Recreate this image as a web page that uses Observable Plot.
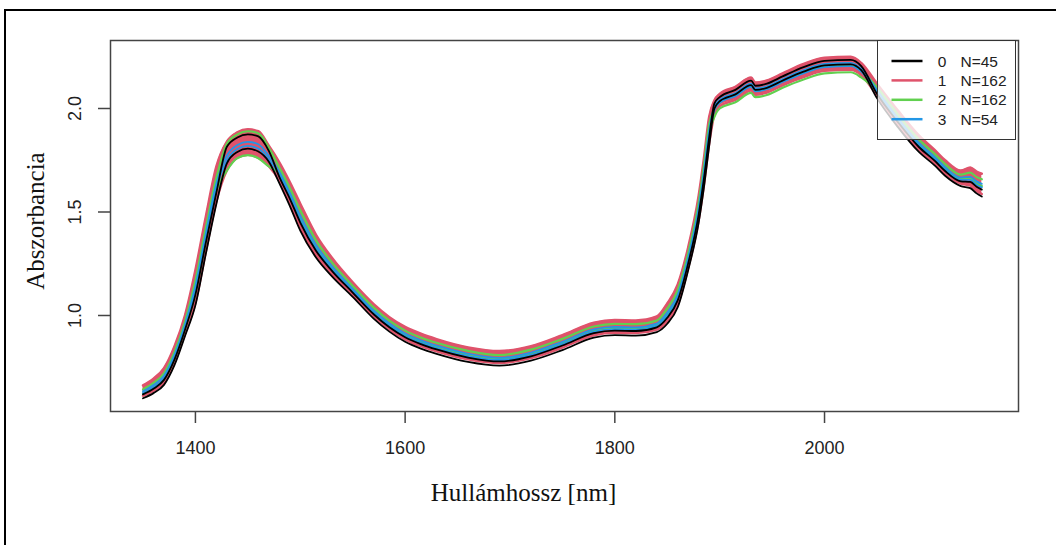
<!DOCTYPE html>
<html><head><meta charset="utf-8">
<script src="https://cdn.jsdelivr.net/npm/d3@7"></script>
<script src="https://cdn.jsdelivr.net/npm/@observablehq/plot@0.6"></script>
<style>
html,body{margin:0;padding:0;background:#fff;width:1056px;height:545px;overflow:hidden;}
#frame{position:absolute;left:4px;top:9px;width:1060px;height:540px;border-top:2px solid #000;border-left:2px solid #000;}
#chart{position:absolute;left:0;top:0;}
#legend{position:absolute;left:877px;top:40px;width:139px;height:100px;box-sizing:border-box;border:1.5px solid #333;background:rgba(255,255,255,0.78);}
</style></head><body>
<div id="frame"></div><div id="chart"></div><div id="legend"></div>
<script>
// Wavelength grid (nm)
const wl = [1350,1360,1370,1380,1390,1400,1410,1420,1430,1440,1450,1460,1470,1480,1490,1500,1515,1530,1550,1570,1585,1600,1615,1630,1660,1690,1720,1750,1780,1800,1820,1840,1850,1860,1870,1880,1885,1890,1895,1900,1915,1930,1934,1945,1960,1980,2000,2025,2035,2050,2070,2090,2105,2115,2130,2139,2145,2150];

// Class 0 (N=45) – lower / upper spectra
const c0Lo = [.600,.625,.665,.760,.900,1.050,1.300,1.540,1.735,1.790,1.806,1.792,1.743,1.640,1.530,1.410,1.280,1.190,1.090,.985,.922,.873,.840,.815,.776,.758,.782,.833,.893,.905,.903,.920,.960,1.040,1.220,1.450,1.620,1.820,2.000,2.035,2.068,2.113,2.090,2.100,2.135,2.178,2.208,2.213,2.185,2.050,1.910,1.790,1.725,1.675,1.625,1.615,1.590,1.575];
const c0Hi = [.619,.646,.689,.787,.930,1.101,1.354,1.594,1.815,1.860,1.875,1.865,1.795,1.670,1.565,1.449,1.313,1.217,1.111,1.006,.943,.895,.862,.836,.797,.778,.803,.855,.915,.927,.925,.943,.989,1.073,1.253,1.489,1.662,1.862,2.025,2.055,2.090,2.135,2.110,2.120,2.155,2.200,2.230,2.235,2.205,2.071,1.934,1.814,1.748,1.698,1.648,1.645,1.622,1.608];
// Class 1 (N=162)
const c1Lo = [.612,.637,.677,.772,.912,1.062,1.312,1.552,1.702,1.762,1.777,1.762,1.722,1.652,1.542,1.422,1.292,1.202,1.102,.997,.934,.885,.852,.827,.788,.770,.794,.845,.905,.917,.915,.932,.972,1.052,1.232,1.462,1.632,1.832,1.972,2.012,2.042,2.087,2.067,2.077,2.112,2.152,2.182,2.187,2.162,2.062,1.922,1.802,1.737,1.687,1.637,1.627,1.602,1.587];
const c1Hi = [.662,.695,.745,.850,1.000,1.220,1.480,1.720,1.840,1.885,1.900,1.890,1.820,1.740,1.645,1.540,1.390,1.280,1.160,1.055,.992,.945,.912,.886,.846,.828,.852,.905,.965,.978,.976,.995,1.058,1.150,1.330,1.580,1.760,1.960,2.040,2.070,2.105,2.150,2.125,2.135,2.170,2.215,2.245,2.250,2.220,2.120,1.990,1.870,1.800,1.750,1.700,1.715,1.695,1.685];
// Class 2 (N=162)
const c2Lo = [.622,.650,.693,.792,.935,1.110,1.363,1.603,1.700,1.760,1.775,1.760,1.720,1.685,1.582,1.469,1.330,1.231,1.122,1.017,.954,.905,.872,.847,.808,.789,.814,.865,.925,.938,.936,.954,1.004,1.090,1.270,1.509,1.683,1.883,1.960,2.000,2.030,2.075,2.055,2.065,2.100,2.140,2.170,2.175,2.150,2.082,1.946,1.826,1.759,1.709,1.659,1.660,1.637,1.625];
const c2Hi = [.643,.674,.721,.823,.970,1.169,1.426,1.666,1.830,1.875,1.890,1.880,1.810,1.715,1.616,1.508,1.363,1.258,1.143,1.038,.975,.927,.894,.868,.829,.809,.835,.887,.947,.960,.958,.976,1.034,1.123,1.303,1.548,1.725,1.925,1.996,2.032,2.064,2.109,2.087,2.097,2.132,2.174,2.204,2.209,2.182,2.103,1.970,1.850,1.781,1.731,1.681,1.690,1.669,1.658];
// Class 3 (N=54)
const c3Lo = [.625,.653,.697,.796,.940,1.118,1.372,1.612,1.750,1.804,1.819,1.806,1.754,1.680,1.576,1.462,1.324,1.226,1.118,1.013,.950,.902,.869,.843,.804,.785,.810,.862,.922,.934,.932,.950,.999,1.084,1.264,1.502,1.676,1.876,1.992,2.028,2.060,2.105,2.083,2.093,2.128,2.170,2.200,2.205,2.178,2.078,1.942,1.822,1.755,1.705,1.655,1.655,1.632,1.619];
const c3Hi = [.634,.664,.709,.810,.955,1.144,1.399,1.639,1.773,1.824,1.839,1.827,1.771,1.695,1.593,1.482,1.341,1.240,1.129,1.024,.961,.913,.880,.854,.815,.795,.821,.873,.933,.945,.943,.961,1.014,1.101,1.281,1.522,1.697,1.897,2.008,2.042,2.075,2.120,2.097,2.107,2.142,2.185,2.215,2.220,2.192,2.089,1.954,1.834,1.766,1.716,1.666,1.670,1.648,1.636];

const classLabels = ["0","1","2","3"];
const classN = [45,162,162,54];
const classColors = ["#000000","#DF536B","#61D04F","#2297E6"];
const xTicks = [1400,1600,1800,2000];
const yTicks = [1.0,1.5,2.0];
const xTitle = "Hullámhossz [nm]";
const yTitle = "Abszorbancia";

const long = (lo, hi, k) => [
  ...wl.map((w,i)=>({wl:w, v:lo[i], key:k+"lo"})),
  ...wl.map((w,i)=>({wl:w, v:hi[i], key:k+"hi"}))
];
const band1 = wl.map((w,i)=>({wl:w, lo:c1Lo[i], hi:c1Hi[i]}));
const curve = "monotone-x";
const serif = "'Liberation Serif', 'Times New Roman', serif";

const chart = Plot.plot({
  width:1056, height:545,
  marginLeft:110, marginRight:38, marginTop:40, marginBottom:134,
  style:{fontFamily:"'Liberation Sans', Arial, sans-serif", background:"transparent", color:"#222", overflow:"visible"},
  x:{domain:[1319,2185]},
  y:{domain:[0.5362,2.3285]},
  marks:[
    Plot.areaY(band1,{x:"wl", y1:"lo", y2:"hi", fill:classColors[1], curve}),
    Plot.line(long(c1Lo,c1Hi,"1"),{x:"wl", y:"v", z:"key", stroke:classColors[1], strokeWidth:2.5, curve}),
    Plot.line(long(c2Lo,c2Hi,"2"),{x:"wl", y:"v", z:"key", stroke:classColors[2], strokeWidth:2.2, curve}),
    Plot.line(long(c3Lo,c3Hi,"3"),{x:"wl", y:"v", z:"key", stroke:classColors[3], strokeWidth:1.8, curve}),
    Plot.line(long(c0Lo,c0Hi,"0"),{x:"wl", y:"v", z:"key", stroke:classColors[0], strokeWidth:1.8, curve}),
    Plot.frame({stroke:"#444", strokeWidth:1.5}),
    Plot.axisX({ticks:xTicks, tickSize:12, tickPadding:18, fontSize:18, stroke:"#444", strokeWidth:1.5, tickFormat:d=>String(d), label:null}),
    Plot.axisY({ticks:yTicks, tickSize:12, stroke:"#444", strokeWidth:1.5, tickFormat:()=>"", label:null}),
    Plot.text(yTicks,{y:d=>d, frameAnchor:"left", dx:-35, rotate:-90, textAnchor:"middle", text:d=>d.toFixed(1), fontSize:18, fill:"#222"}),
    Plot.text([xTitle],{frameAnchor:"bottom", dx:-41, dy:89, textAnchor:"middle", text:d=>d, fontSize:25, fontFamily:serif, fill:"#111"}),
    Plot.text([yTitle],{frameAnchor:"left", dx:-75, dy:-5, rotate:-90, textAnchor:"middle", text:d=>d, fontSize:25, fontFamily:serif, fill:"#111"})
  ]
});
document.getElementById("chart").appendChild(chart);

// Legend
const leg = d3.select("#legend").append("svg").attr("width",136).attr("height",97)
  .style("font-family","'Liberation Sans', Arial, sans-serif").style("font-size","15.5px");
classLabels.forEach((c,i)=>{
  const y = 20 + i*19.4;
  leg.append("line").attr("x1",13.5).attr("x2",44.5).attr("y1",y).attr("y2",y)
    .attr("stroke",classColors[i]).attr("stroke-width",2.5);
  leg.append("text").attr("x",64).attr("y",y).attr("dy","0.36em").attr("text-anchor","middle").attr("fill","#222").text(c);
  leg.append("text").attr("x",82.5).attr("y",y).attr("dy","0.36em").attr("fill","#222").text("N="+classN[i]);
});
</script></body></html>
